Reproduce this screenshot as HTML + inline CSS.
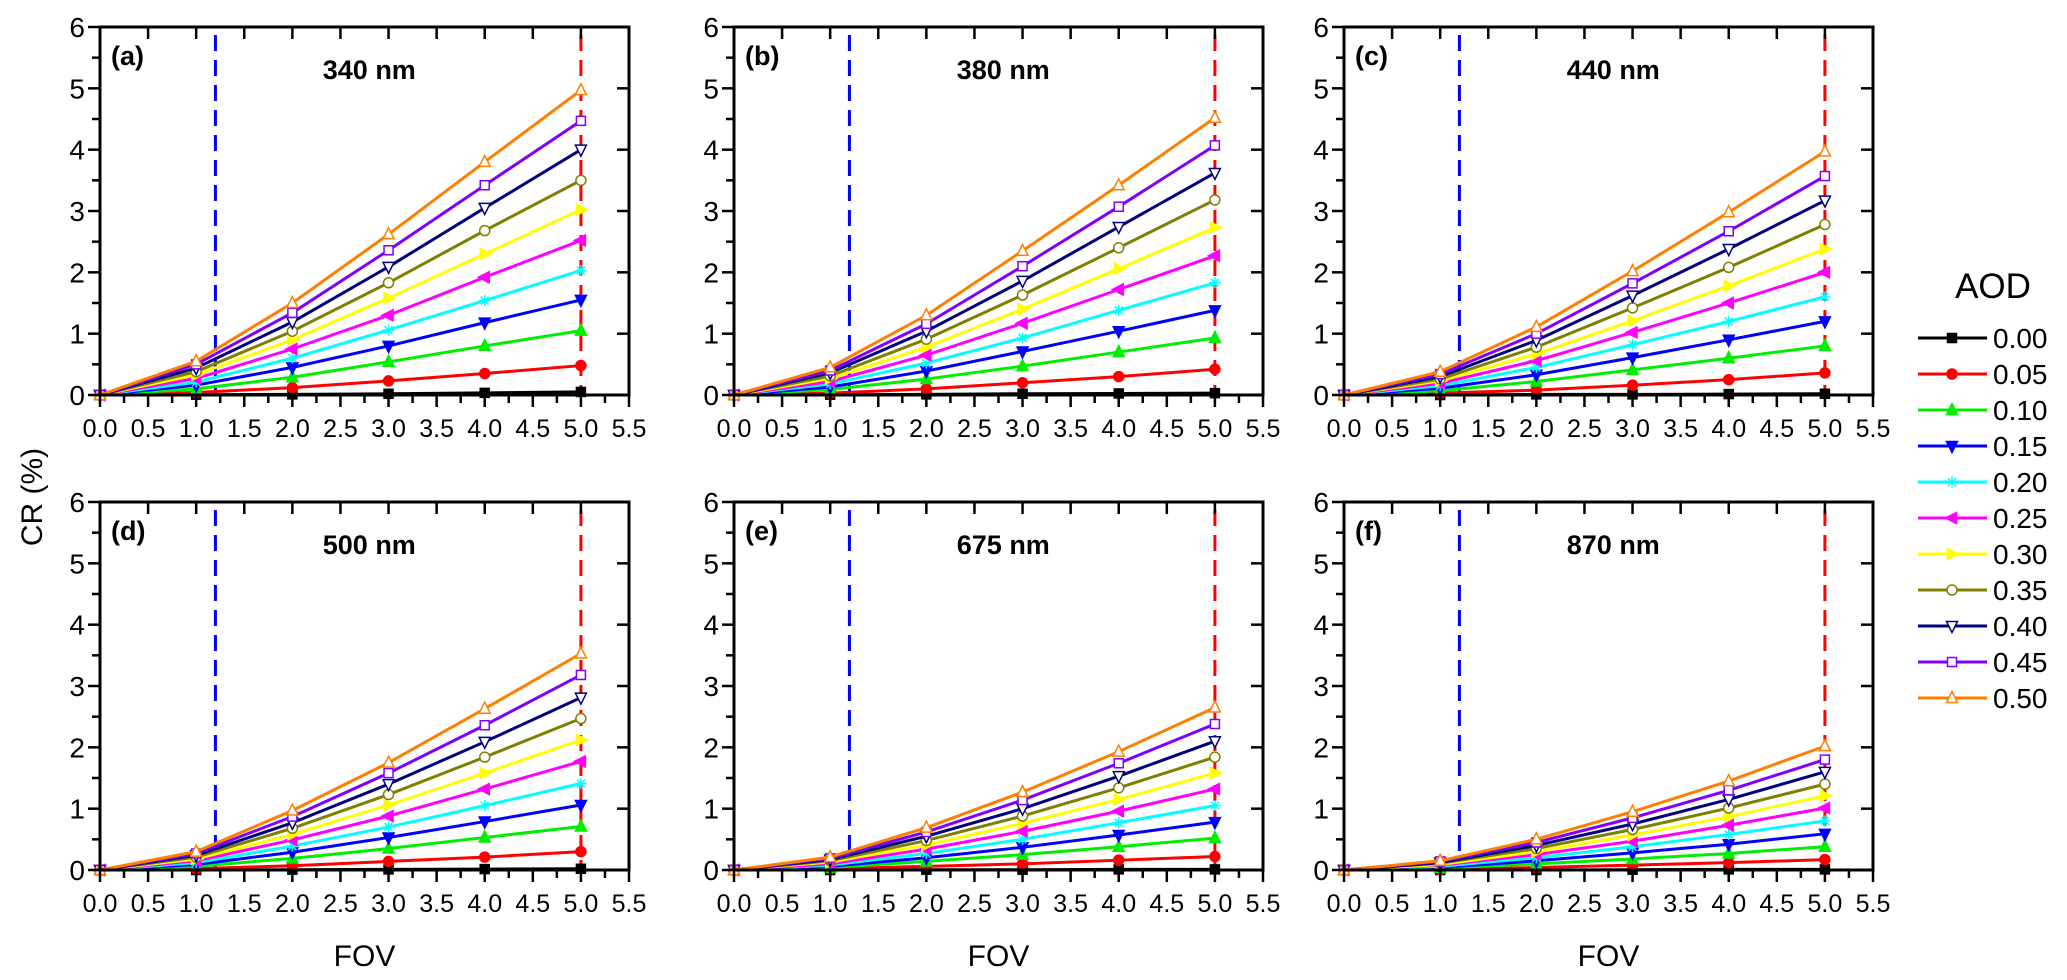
<!DOCTYPE html>
<html><head><meta charset="utf-8"><style>
html,body{margin:0;padding:0;background:#fff;}
svg{display:block;font-family:"Liberation Sans",Arial,sans-serif;}
</style></head><body>
<svg id="chart" width="2067" height="980" viewBox="0 0 2067 980" xmlns="http://www.w3.org/2000/svg"></svg>
<script>
const fov = [0,1,2,3,4,5];
const aodLabels = ["0.00","0.05","0.10","0.15","0.20","0.25","0.30","0.35","0.40","0.45","0.50"];
const panelLabels = ["(a)","(b)","(c)","(d)","(e)","(f)"];
const wavelengths = ["340 nm","380 nm","440 nm","500 nm","675 nm","870 nm"];
const xTicks = ["0.0","0.5","1.0","1.5","2.0","2.5","3.0","3.5","4.0","4.5","5.0","5.5"];
const yTicks = ["0","1","2","3","4","5","6"];
const blueLineFov = 1.2;
const redLineFov = 5.0;
const crA = [
[0,0.005,0.01,0.02,0.035,0.05],[0,0.04,0.12,0.23,0.35,0.48],[0,0.1,0.29,0.54,0.8,1.05],[0,0.16,0.45,0.8,1.18,1.55],
[0,0.21,0.6,1.06,1.54,2.03],[0,0.27,0.75,1.3,1.92,2.52],[0,0.33,0.9,1.58,2.3,3.02],[0,0.38,1.04,1.83,2.68,3.5],
[0,0.44,1.19,2.09,3.05,4.0],[0,0.5,1.34,2.36,3.42,4.47],[0,0.55,1.5,2.62,3.8,4.97]];
const crB = [
[0,0.005,0.01,0.02,0.025,0.03],[0,0.03,0.1,0.2,0.3,0.42],[0,0.09,0.26,0.47,0.7,0.93],[0,0.13,0.39,0.71,1.04,1.38],
[0,0.18,0.52,0.93,1.38,1.83],[0,0.22,0.65,1.17,1.72,2.27],[0,0.27,0.78,1.4,2.06,2.73],[0,0.31,0.91,1.63,2.4,3.18],
[0,0.36,1.04,1.86,2.74,3.62],[0,0.4,1.16,2.1,3.07,4.07],[0,0.45,1.3,2.35,3.42,4.52]];
const crC = [
[0,0,0.01,0.01,0.015,0.02],[0,0.03,0.08,0.16,0.25,0.36],[0,0.07,0.22,0.41,0.6,0.8],[0,0.11,0.33,0.61,0.9,1.2],
[0,0.15,0.45,0.82,1.2,1.6],[0,0.19,0.56,1.02,1.5,2.0],[0,0.23,0.67,1.21,1.78,2.38],[0,0.26,0.78,1.42,2.08,2.78],
[0,0.3,0.89,1.62,2.38,3.17],[0,0.34,1.0,1.82,2.67,3.57],[0,0.38,1.11,2.02,2.98,3.97]];
const crD = [
[0,0,0.005,0.01,0.015,0.02],[0,0.02,0.07,0.14,0.21,0.3],[0,0.06,0.19,0.35,0.53,0.71],[0,0.09,0.29,0.53,0.79,1.06],
[0,0.12,0.39,0.7,1.05,1.41],[0,0.15,0.49,0.88,1.32,1.77],[0,0.18,0.58,1.06,1.58,2.12],[0,0.21,0.68,1.23,1.84,2.47],
[0,0.24,0.77,1.4,2.09,2.81],[0,0.27,0.87,1.58,2.36,3.18],[0,0.3,0.97,1.75,2.63,3.53]];
const crE = [
[0,0,0.005,0.005,0.01,0.01],[0,0.02,0.06,0.1,0.16,0.22],[0,0.04,0.14,0.25,0.38,0.52],[0,0.06,0.2,0.37,0.57,0.78],
[0,0.08,0.27,0.5,0.77,1.05],[0,0.1,0.34,0.63,0.96,1.32],[0,0.13,0.41,0.76,1.15,1.58],[0,0.15,0.48,0.88,1.34,1.84],
[0,0.17,0.55,1.0,1.53,2.1],[0,0.19,0.62,1.14,1.74,2.38],[0,0.21,0.69,1.27,1.93,2.65]];
const crF = [
[0,0,0,0.005,0.01,0.01],[0,0.01,0.04,0.08,0.12,0.17],[0,0.03,0.1,0.18,0.27,0.38],[0,0.04,0.15,0.28,0.42,0.59],
[0,0.06,0.2,0.38,0.58,0.8],[0,0.08,0.25,0.47,0.73,1.01],[0,0.09,0.3,0.57,0.87,1.21],[0,0.11,0.35,0.66,1.01,1.4],
[0,0.12,0.4,0.75,1.15,1.6],[0,0.14,0.45,0.85,1.3,1.8],[0,0.15,0.5,0.95,1.45,2.02]];
const panelData = [crA,crB,crC,crD,crE,crF];

const colors = ["#000000","#ff0000","#00ee00","#0000ff","#00ffff","#ff00ff","#ffff00","#808000","#000080","#8000ff","#ff8000"];
const markers = ["sq","ci","tu","td","st","tl","tr","oci","otd","osq","otu"];
const NS="http://www.w3.org/2000/svg";
const svg=document.getElementById('chart');
function el(tag,attrs,parent){const e=document.createElementNS(NS,tag);for(const k in attrs)e.setAttribute(k,attrs[k]);(parent||svg).appendChild(e);return e;}

const lefts=[100,734,1344], tops=[27,502];
const PW=529, PH=368;

function marker(g,type,x,y,c){
  const s=5.5;let m;
  const open=type.startsWith('o');const fill=open?'#fff':c;const t=open?type.slice(1):type;
  if(t==='sq') m=el('rect',{x:x-s+1,y:y-s+1,width:2*s-2,height:2*s-2,fill:fill,stroke:c,'stroke-width':1.5},g);
  else if(t==='ci') m=el('circle',{cx:x,cy:y,r:s-0.5,fill:fill,stroke:c,'stroke-width':1.5},g);
  else if(t==='st'){m=el('path',{d:`M${x-s},${y}H${x+s}M${x},${y-s}V${y+s}M${x-4},${y-4}L${x+4},${y+4}M${x-4},${y+4}L${x+4},${y-4}`,stroke:c,'stroke-width':1.5,fill:'none'},g);}
  else {
    let p;
    if(t==='tu') p=[[x,y-s-1],[x-s,y+s-1],[x+s,y+s-1]];
    if(t==='td') p=[[x,y+s+1],[x-s,y-s+1],[x+s,y-s+1]];
    if(t==='tl') p=[[x-s-1,y],[x+s-1,y-s],[x+s-1,y+s]];
    if(t==='tr') p=[[x+s+1,y],[x-s+1,y-s],[x-s+1,y+s]];
    m=el('polygon',{points:p.map(q=>q.join(',')).join(' '),fill:fill,stroke:c,'stroke-width':1.5},g);
  }
  
  
}

for(let p=0;p<6;p++){
  const L=lefts[p%3], T=tops[Math.floor(p/3)], B=T+PH, R=L+PW;
  const sx=v=>L+v*PW/5.5, sy=v=>B-v*PH/6;
  const g=el('g',{});
  
  
  // dashed lines
  const bl=el('line',{x1:sx(blueLineFov),x2:sx(blueLineFov),y1:T+8,y2:B,stroke:'#0000ff','stroke-width':3,'stroke-dasharray':'16,9'},g);
  
  const rl=el('line',{x1:sx(redLineFov),x2:sx(redLineFov),y1:T+8,y2:B,stroke:'#ff0000','stroke-width':3,'stroke-dasharray':'16,9'},g);
  
  // series
  const data=panelData[p];
  for(let s=0;s<data.length;s++){
    const pts=fov.map((f,i)=>sx(f)+','+sy(data[s][i])).join(' ');
    const pl=el('polyline',{points:pts,fill:'none',stroke:colors[s],'stroke-width':3,'stroke-linejoin':'round'},g);
    
    
    fov.forEach((f,i)=>marker(g,markers[s],sx(f),sy(data[s][i]),colors[s]));
  }
  // frame
  const fr=el('rect',{x:L,y:T,width:PW,height:PH,fill:'none',stroke:'#000','stroke-width':3},g);
  
  // x ticks
  for(let i=0;i<=22;i++){
    const v=i*0.25,x=sx(v);
    const major=i%2===0;
    el('line',{x1:x,x2:x,y1:B,y2:B+(major?12:8),stroke:'#000','stroke-width':2.5},g);
    if(major&&i<22) el('line',{x1:x,x2:x,y1:T,y2:T+12,stroke:'#000','stroke-width':2.5},g);
    if(major){
      const t=el('text',{x:x,y:B+42,'font-size':25,'text-anchor':'middle',fill:'#000'},g);
      t.textContent=xTicks[i/2];
      
    }
  }
  // y ticks
  for(let i=0;i<=12;i++){
    const v=i*0.5,y=sy(v),major=i%2===0;
    el('line',{x1:L-(major?12:8),x2:L,y1:y,y2:y,stroke:'#000','stroke-width':2.5},g);
    if(major&&i>0&&i<12) el('line',{x1:R-12,x2:R,y1:y,y2:y,stroke:'#000','stroke-width':2.5},g);
    if(major){
      const t=el('text',{x:L-15,y:y+10,'font-size':28,'text-anchor':'end',fill:'#000'},g);
      t.textContent=yTicks[i/2];
      
    }
  }
  const pl=el('text',{x:L+11,y:T+38,'font-size':27,'font-weight':'bold',fill:'#000'},g);
  pl.textContent=panelLabels[p];
  const wl=el('text',{x:sx(2.8),y:T+52,'font-size':27,'font-weight':'bold','text-anchor':'middle',fill:'#000'},g);
  wl.textContent=wavelengths[p];
  if(p>=3){
    const xl=el('text',{x:L+PW/2,y:B+96,'font-size':30,'text-anchor':'middle',fill:'#000'},g);
    xl.textContent='FOV';
  }
}
const yl=el('text',{x:0,y:0,'font-size':30,'text-anchor':'middle',fill:'#000',transform:'translate(42,497) rotate(-90)'});
yl.textContent='CR (%)';

// legend
const lg=el('g',{});

const lt=el('text',{x:1993,y:298,'font-size':35,'text-anchor':'middle',fill:'#000'},lg);
lt.textContent='AOD';
for(let s=0;s<aodLabels.length;s++){
  const y=338+s*36;
  const ln=el('line',{x1:1918,x2:1987,y1:y,y2:y,stroke:colors[s],'stroke-width':3},lg);
  
  marker(lg,markers[s],1952,y,colors[s]);
  const t=el('text',{x:1993,y:y+10,'font-size':28,fill:'#000'},lg);
  t.textContent=aodLabels[s];
}
</script>
</body></html>
